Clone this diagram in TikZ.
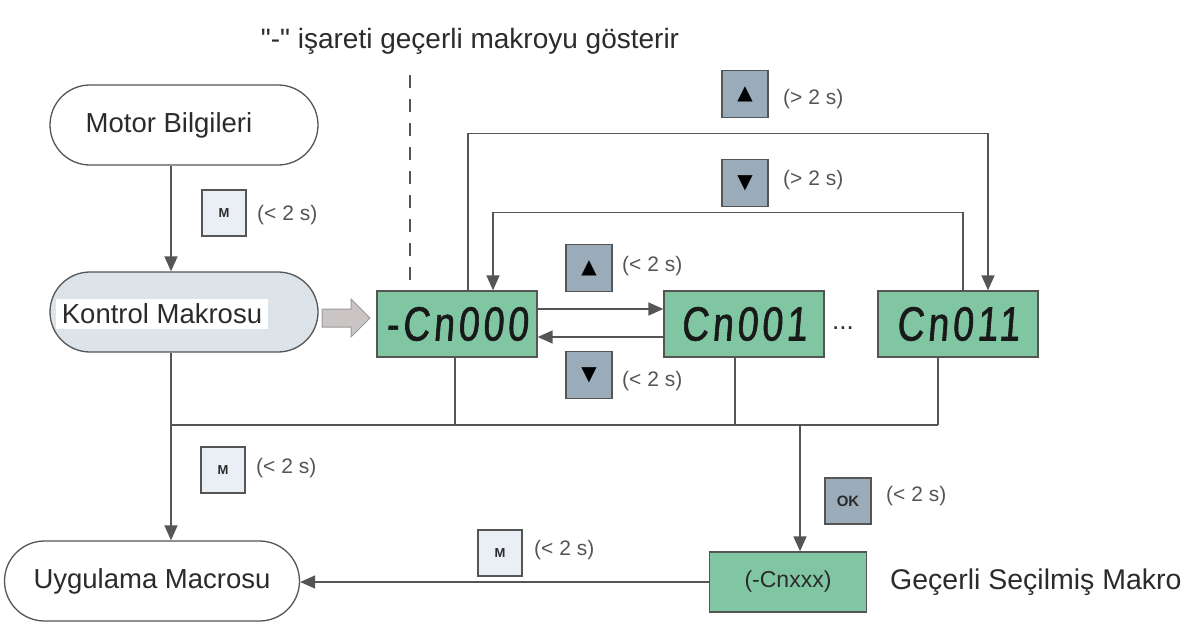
\documentclass[tikz,border=0pt]{standalone}
\usepackage{fontspec}
\setmainfont{Liberation Sans}
\newfontfamily\plainfont{Liberation Sans}[Ligatures=ResetAll]
\newfontfamily\segfont[FakeSlant=0.08,FakeStretch=0.78,FakeBold=1.2,LetterSpace=8]{Liberation Sans}
\newfontfamily\symfont{DejaVu Sans}
\usetikzlibrary{arrows.meta}
\definecolor{lcd}{HTML}{80C6A3}
\definecolor{edge}{HTML}{555555}
\definecolor{btn}{HTML}{9AABBA}
\definecolor{btnl}{HTML}{E9EFF5}
\definecolor{kfill}{HTML}{DCE3E9}
\definecolor{txt}{HTML}{2B2B2B}
\definecolor{lbltxt}{HTML}{555555}
\definecolor{barrow}{HTML}{CBC4C4}
\tikzset{
  term/.style={draw=edge, line width=1.3pt, rounded corners=40pt, minimum width=268pt,
    minimum height=80pt, text=txt, font=\fontsize{27.5}{27.5}\selectfont, inner sep=0pt},
  disp/.style={draw=edge, line width=1.3pt, fill=lcd, minimum width=160pt, minimum height=66pt,
    text=black!90, font=\segfont\fontsize{48}{48}\selectfont, inner sep=0pt},
  selbox/.style={draw=edge, line width=1.3pt, fill=lcd, minimum width=157pt, minimum height=60pt,
    text=txt, font=\fontsize{23}{23}\selectfont, inner sep=0pt},
  keyd/.style={draw=edge, line width=1.3pt, fill=btn, minimum width=46pt, minimum height=47pt,
    inner sep=0pt, font=\symfont\fontsize{20}{20}\selectfont},
  keym/.style={draw=edge, line width=1.3pt, fill=btnl, minimum width=44pt, minimum height=46pt,
    inner sep=0pt, font=\bfseries\fontsize{13}{13}\selectfont, text=txt},
  keyok/.style={draw=edge, line width=1.3pt, fill=btn, minimum width=46pt, minimum height=46pt,
    inner sep=0pt, font=\bfseries\fontsize{15}{15}\selectfont, text=txt},
  lbl/.style={anchor=west, text=lbltxt, font=\fontsize{21}{21}\selectfont, inner sep=0pt},
  conn/.style={draw=edge, line width=1.5pt},
  tip/.style={-{Triangle[length=15pt,width=13pt]}},
}
\begin{document}
\begin{tikzpicture}[x=1pt,y=-1pt]
\useasboundingbox (0,0) rectangle (1192,624);

% title
\node[text=txt, font=\plainfont\fontsize{28}{28}\selectfont] (title) at (470,41) {"-" işareti geçerli makroyu gösterir};

% terminals
\node[term, fill=white] (motor) at (184,125) {Motor Bilgileri\hspace*{30pt}};
\node[term, fill=kfill] (kontrol) at (184,312) {};
\node[fill=white, text=txt, font=\fontsize{27.5}{27.5}\selectfont, inner xsep=6pt, inner ysep=5pt] (ktext) at (162,314) {Kontrol Makrosu};
\node[term, fill=white, minimum width=295pt] (uyg) at (152,581) {Uygulama Macrosu};

% dashed separator
\coordinate (d1) at (410,75);
\coordinate (d2) at (410,282);
\draw[edge, line width=1.3pt, dash pattern=on 13pt off 11pt] (d1) -- (d2);

% block arrow
\draw[draw=gray!80, line width=1pt, fill=barrow]
  (322,309) -- (351,309) -- (351,299) -- (370,318) -- (351,337) -- (351,327) -- (322,327) -- cycle;

% displays
\node[disp] (c0) at (457,324) {-Cn000};
\node[disp] (c1) at (744,324) {Cn001};
\node[disp] (c11) at (958,324) {Cn011};
\node[text=txt, font=\fontsize{26}{26}\selectfont] (dots) at (843,328) {...};

% long press loops
\draw[conn, tip] ([xshift=11pt]c0.north) -- ++(0,-157) -| ([xshift=30pt]c11.north);
\draw[conn, tip] ([xshift=5pt]c11.north) -- ++(0,-78) -| ([xshift=36pt]c0.north);

% short press arrows
\draw[conn, tip] ([yshift=15pt]c0.east) -- ([yshift=15pt]c1.west);
\draw[conn, tip] ([yshift=-13pt]c1.west) -- ([yshift=-13pt]c0.east);

% buttons and labels
\node[keym] (m1) at (224,213) {M};
\node[lbl] (m1l) at (257,215) {(< 2 s)};
\node[keyd] (up1) at (589,268) {▲};
\node[lbl] (up1l) at (622,266) {(< 2 s)};
\node[keyd] (dn1) at (589,375) {▼};
\node[lbl] (dn1l) at (622,381) {(< 2 s)};
\node[keyd] (up2) at (745,94) {▲};
\node[lbl] (up2l) at (783,99) {(> 2 s)};
\node[keyd] (dn2) at (745,183) {▼};
\node[lbl] (dn2l) at (783,180) {(> 2 s)};
\node[keym] (m2) at (223,470) {M};
\node[lbl] (m2l) at (256,468) {(< 2 s)};
\node[keyok] (ok) at (848,501) {OK};
\node[lbl] (okl) at (886,496) {(< 2 s)};
\node[keym] (m3) at (500,553) {M};
\node[lbl] (m3l) at (534,550) {(< 2 s)};

% motor -> kontrol
\draw[conn, tip] ([xshift=-13pt]motor.south) -- ([xshift=-13pt]kontrol.north);

% bus
\coordinate (busL) at (171,425);
\coordinate (busR) at (938,425);
\coordinate (bj) at (800,425);
\draw[conn] (busL) -- (busR);
\draw[conn] ([xshift=-2pt]c0.south) -- ([xshift=-2pt]c0.south |- busL);
\draw[conn] ([xshift=-9pt]c1.south) -- ([xshift=-9pt]c1.south |- busL);
\draw[conn] ([xshift=-20pt]c11.south) -- (busR);
\draw[conn, tip] ([xshift=-13pt]kontrol.south) -- ([xshift=-13pt]kontrol.south |- uyg.north);

% selected macro
\node[selbox] (sel) at (788,582) {(-Cnxxx)};
\node[anchor=west, text=txt, font=\fontsize{28.5}{28.5}\selectfont, inner sep=0pt] (sellbl) at (890,582) {Geçerli Seçilmiş Makro};
\draw[conn, tip] (bj) -- (bj |- sel.north);
\draw[conn, tip] (sel.west) -- (sel.west -| uyg.east);
\end{tikzpicture}
\end{document}
